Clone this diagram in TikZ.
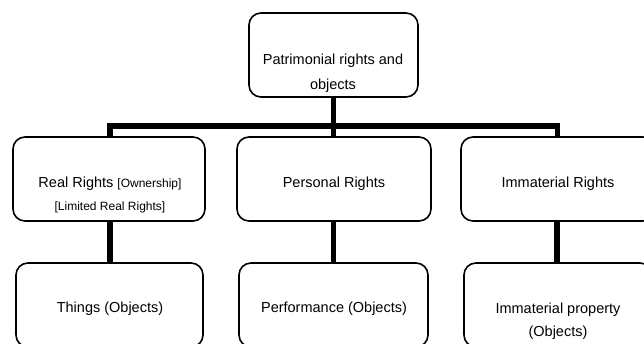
\documentclass[tikz,border=0pt]{standalone}
\usepackage{fontspec}
\setmainfont{Liberation Sans}
\begin{document}
\begin{tikzpicture}[x=1pt,y=-1pt,
  box/.style={draw=black,line width=1.6pt,rounded corners=12pt,minimum height=84pt,inner sep=0pt},
  txt/.style={align=center,inner sep=0pt,text=black,font=\fontsize{14.5}{25}\selectfont},
  conn/.style={line width=5.5pt}]
\useasboundingbox (0,0) rectangle (644,343);
\clip (0,0) rectangle (644,343);
% boxes
\node[box,minimum width=169pt] (top) at (333.5,55) {};
\node[box,minimum width=192pt] (r1) at (109,179) {};
\node[box,minimum width=194pt] (r2) at (334,179) {};
\node[box,minimum width=194pt] (r3) at (558,179) {};
\node[box,minimum width=187pt] (b1) at (109.5,305) {};
\node[box,minimum width=189pt] (b2) at (333.5,305) {};
\node[box,minimum width=188pt] (b3) at (558,305) {};
% connectors
\coordinate (bus) at (333.5,126);
\draw[conn] (top.south -| bus) -- (bus);
\draw[conn] ([xshift=1pt]r1.north) |- (bus) -| ([xshift=-0.5pt]r3.north);
\draw[conn] (bus) -- (r2.north -| bus);
\draw[conn] ([xshift=1pt]r1.south) -- ([xshift=1pt]r1.south |- b1.north);
\draw[conn] (r2.south -| bus) -- (b2.north -| bus);
\draw[conn] ([xshift=-1pt]r3.south) -- ([xshift=-1pt]r3.south |- b3.north);
% texts
\node[txt] (ttop) at (333,73) {Patrimonial rights and\\objects};
\node[txt,font=\fontsize{14.5}{23}\selectfont] (tr1) at (110,195) {Real Rights {\fontsize{12}{23}\selectfont[Ownership]}\\{\fontsize{12}{23}\selectfont[Limited Real Rights]}};
\node[txt] (tr2) at (334,184) {Personal Rights};
\node[txt] (tr3) at (558,184) {Immaterial Rights};
\node[txt] (tb1) at (110,309) {Things (Objects)};
\node[txt] (tb2) at (334,309) {Performance (Objects)};
\node[txt,font=\fontsize{14.5}{23}\selectfont] (tb3) at (558,321.5) {Immaterial property\\(Objects)};
\end{tikzpicture}
\end{document}
